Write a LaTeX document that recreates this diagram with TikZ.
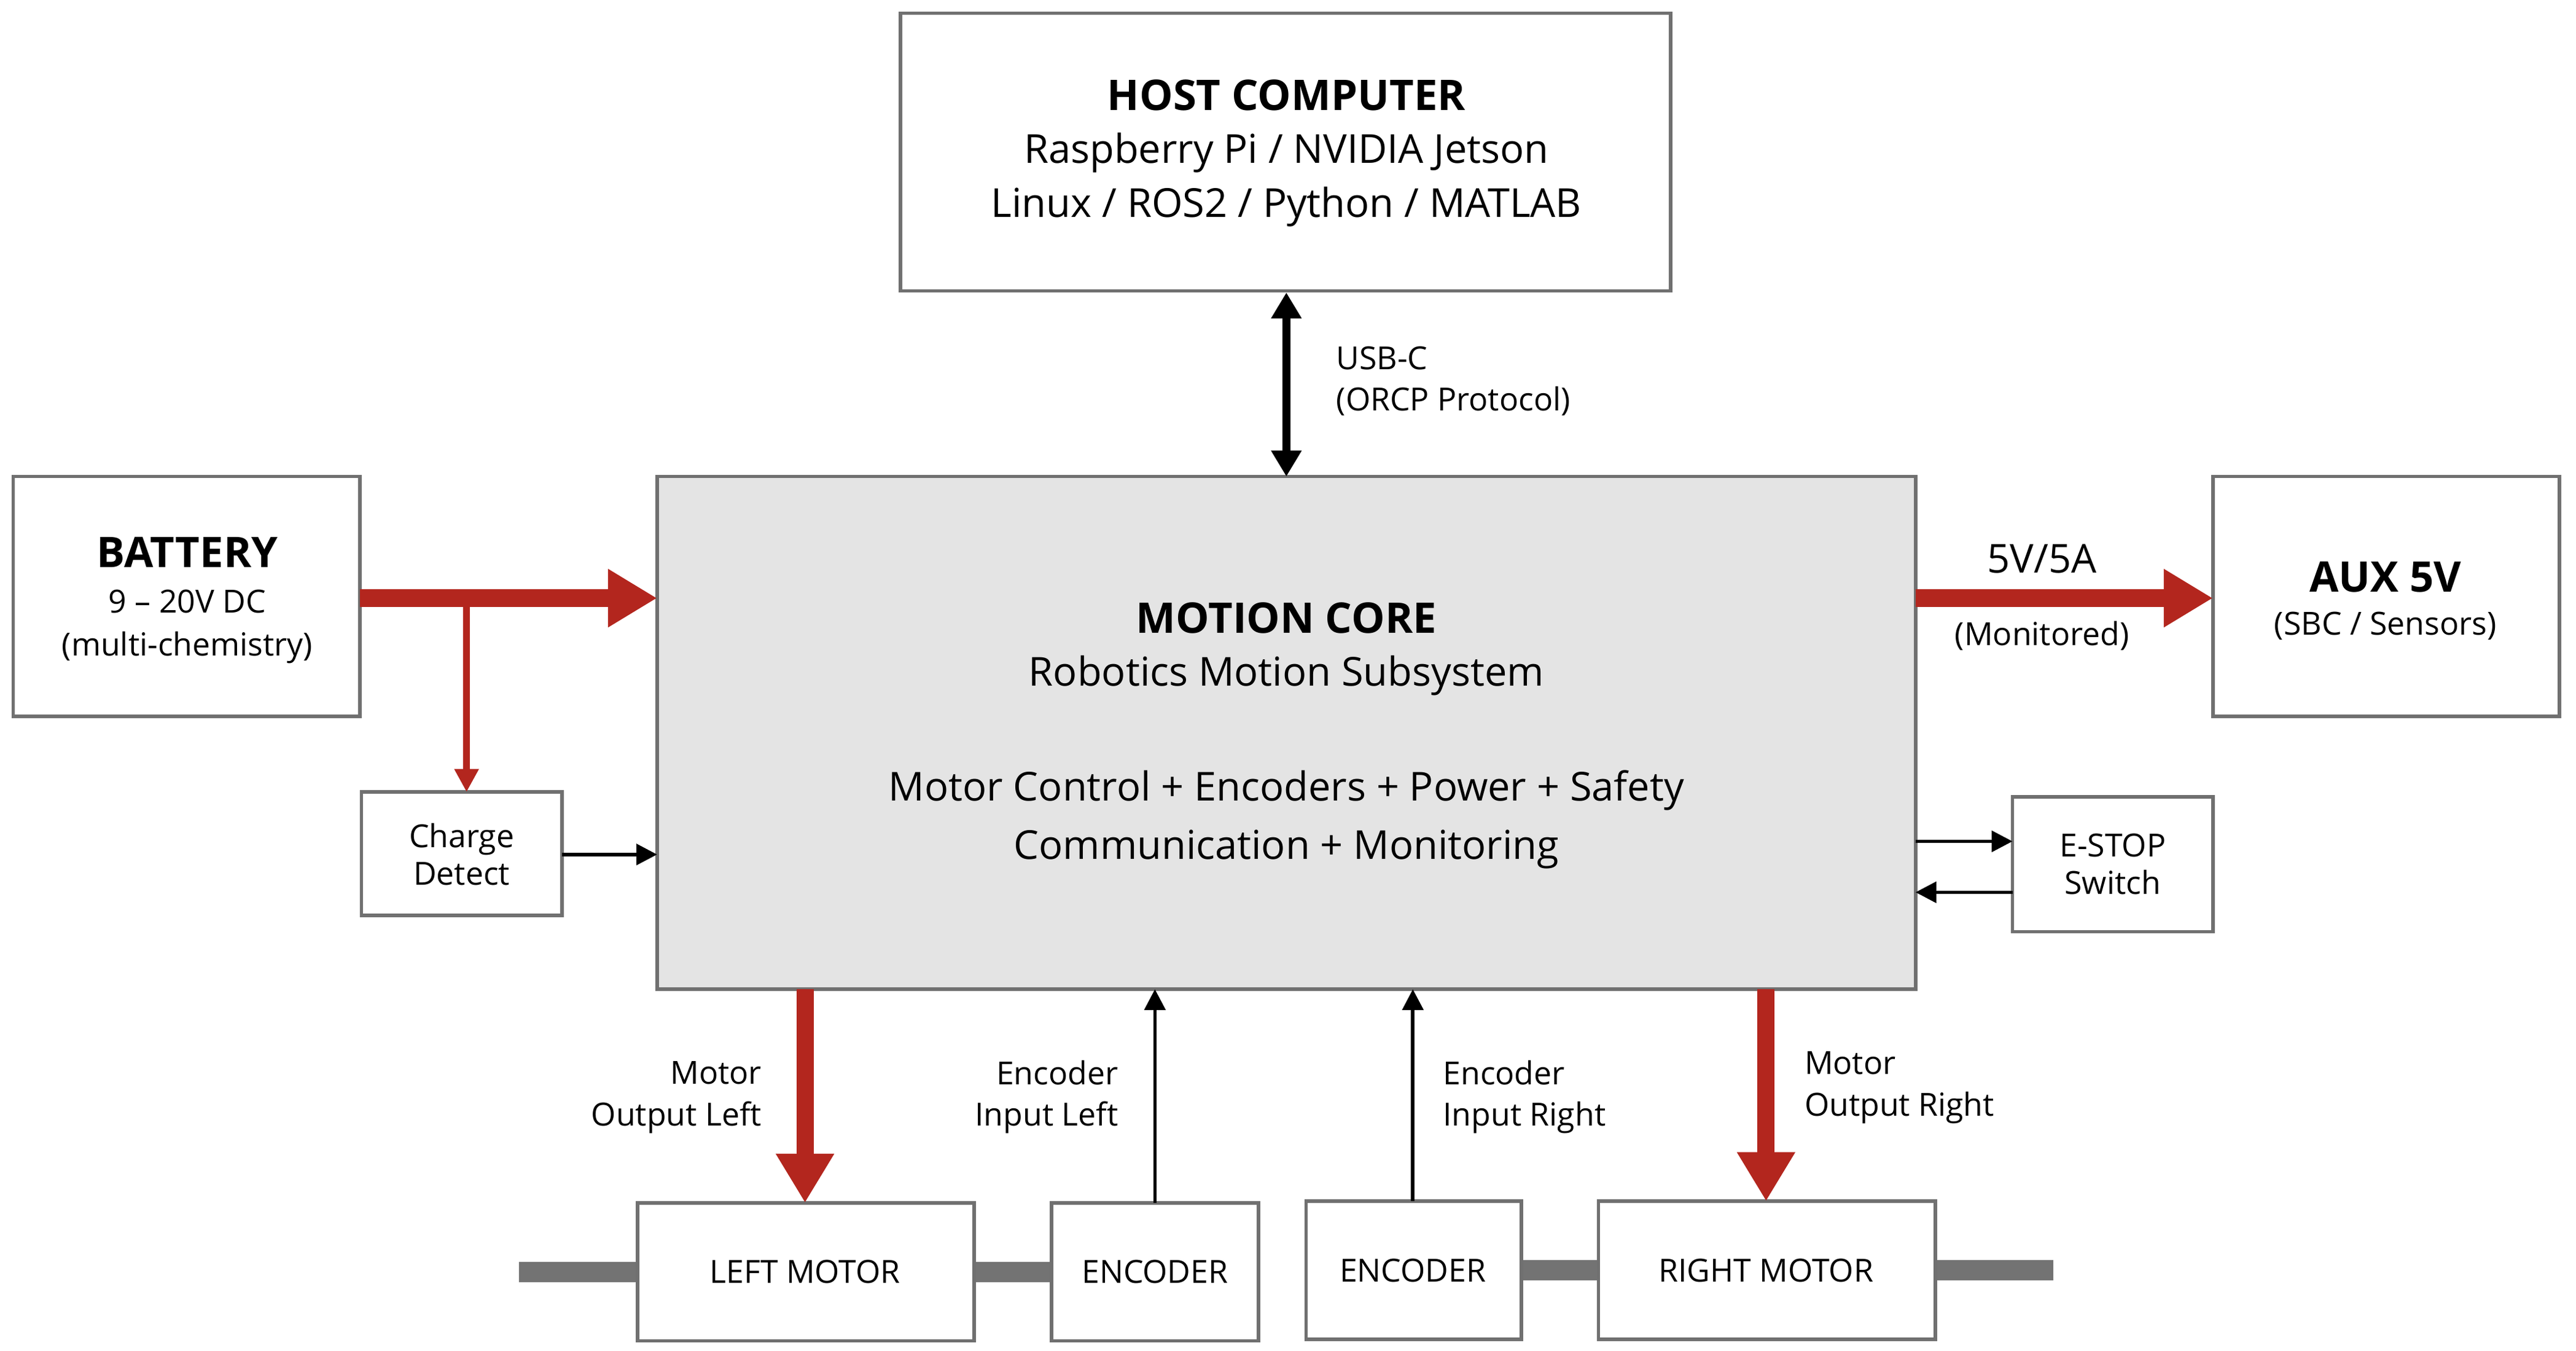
\documentclass[tikz,border=0pt]{standalone}
\usepackage{fontspec}
\setmainfont{Open Sans}
\usetikzlibrary{arrows.meta}
\definecolor{pred}{HTML}{B3261E}
\definecolor{cgray}{HTML}{E4E4E4}
\definecolor{edge}{HTML}{707070}
\begin{document}
\begin{tikzpicture}[x=0.01cm,y=-0.01cm,
 box/.style={draw=edge,line width=0.6pt,fill=white},
 t/.style={font=\fontsize{6.9}{8}\selectfont},
 tb/.style={font=\fontsize{7.3}{9}\selectfont\bfseries},
 ts/.style={font=\fontsize{5.5}{6.5}\selectfont},
 red/.style={draw=pred,line width=3pt,-{Triangle[length=8.5pt,width=9.5pt]}},
 redthin/.style={draw=pred,line width=1.1pt,-{Triangle[length=4pt,width=4pt]}},
 blk/.style={draw=black,line width=0.6pt,-{Triangle[length=3.6pt,width=3.6pt]}},
 shaft/.style={draw=gray!90!black,line width=3.5pt}]
\useasboundingbox (0,0) rectangle (1568,822);
% shafts
\draw[shaft] (316,774) -- (388,774);
\draw[shaft] (593,774) -- (640,774);
\draw[shaft] (926,773) -- (973,773);
\draw[shaft] (1178,773) -- (1250,773);
% boxes
\draw[box] (548,8) rectangle (1017,177); \coordinate (hostS) at (783,177);
\node[tb] at (783,58) {HOST COMPUTER};
\node[t] at (783,93) {Raspberry Pi / NVIDIA Jetson};
\node[t] at (783,126) {Linux / ROS2 / Python / MATLAB};
\draw[box,fill=cgray] (400,290) rectangle (1166,602);
\node[tb] at (783,376) {MOTION CORE};
\node[t] at (783,411) {Robotics Motion Subsystem};
\node[t] at (783,481) {Motor Control + Encoders + Power + Safety};
\node[t] at (783,517) {Communication + Monitoring};
\draw[box] (8,290) rectangle (219,436);
\node[tb] at (114,336) {BATTERY};
\node[ts] at (114,366) {9 – 20V DC};
\node[ts] at (114,394) {(multi-chemistry)};
\draw[box] (1347,290) rectangle (1558,436);
\node[tb] at (1452,351) {AUX 5V};
\node[ts] at (1452,381) {(SBC / Sensors)};
\draw[box] (220,482) rectangle (342,557);
\node[ts,align=center] (cd) at (281,520) {Charge\\Detect};
\draw[box] (1225,485) rectangle (1347,567);
\node[ts,align=center] (es) at (1286,526) {E-STOP\\Switch};
\draw[box] (388,732) rectangle (593,816); \node[ts] (lm) at (490,774) {LEFT MOTOR};
\draw[box] (640,732) rectangle (766,816); \node[ts] (e1) at (703,774) {ENCODER};
\draw[box] (795,731) rectangle (926,815); \node[ts] (e2) at (860,773) {ENCODER};
\draw[box] (973,731) rectangle (1178,815); \node[ts] (rm) at (1075,773) {RIGHT MOTOR};
% connectors
\draw[draw=black,line width=1.4pt,{Triangle[length=4.5pt,width=5pt]}-{Triangle[length=4.5pt,width=5pt]}] (783,178) -- (783,290);
\node[ts,anchor=west] at (801,218) {USB-C};
\node[ts,anchor=west] at (801,244) {(ORCP Protocol)};
\draw[red] (219,364) -- (400,364);
\draw[redthin] (284,364) -- (284,482);
\draw[blk] (342,520) -- (400,520);
\draw[red] (1166,364) -- (1347,364);
\node[t] at (1243,340) {5V/5A};
\node[ts] at (1243,387) {(Monitored)};
\draw[blk] (1166,512) -- (1225,512);
\draw[blk] (1225,543) -- (1166,543);
\draw[red] (490,602) -- (490,732);
\node[ts,anchor=east] at (476,653) {Motor};
\node[ts,anchor=east] at (476,680) {Output Left};
\draw[blk] (703,732) -- (703,602);
\node[ts,anchor=east] at (693,653) {Encoder};
\node[ts,anchor=east] at (693,680) {Input Left};
\draw[blk] (860,731) -- (860,602);
\node[ts,anchor=west] at (866,653) {Encoder};
\node[ts,anchor=west] at (866,680) {Input Right};
\draw[red] (1075,602) -- (1075,731);
\node[ts,anchor=west] at (1086,647) {Motor};
\node[ts,anchor=west] at (1086,674) {Output Right};
\end{tikzpicture}
\end{document}
